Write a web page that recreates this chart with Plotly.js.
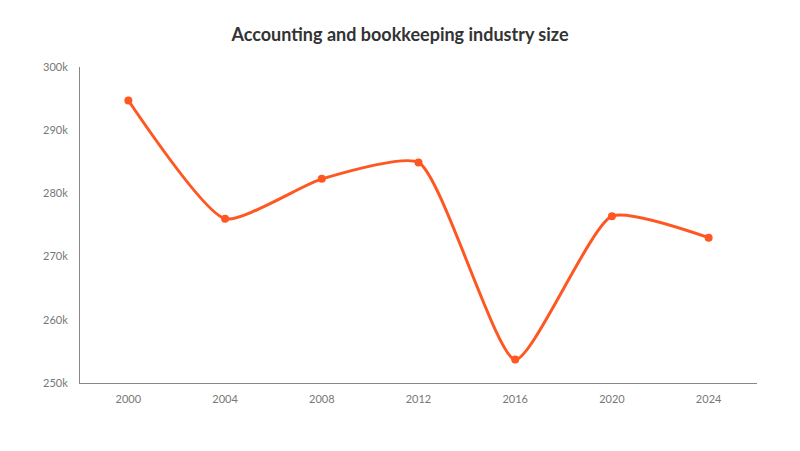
<!DOCTYPE html>
<html><head><meta charset="utf-8">
<script src="https://cdn.plot.ly/plotly-3.0.1.min.js"></script>
<style>html,body{margin:0;padding:0;background:#fff}#c{width:800px;height:451px}</style>
</head><body><div id="c"></div>
<script>
const years = ["2000","2004","2008","2012","2016","2020","2024"];
const sizes = [294700, 276000, 282300, 284900, 253700, 276400, 273000];
const tickVals = [250000, 260000, 270000, 280000, 290000, 300000];
const tickText = ["250k","260k","270k","280k","290k","300k"];

Plotly.newPlot("c", [{
  x: years, y: sizes, type: "scatter", mode: "lines+markers",
  line: {shape: "spline", smoothing: 0.55, color: "#FF5722", width: 3},
  marker: {size: 8, color: "#FF5722"},
  hoverinfo: "x+y"
}], {
  width: 800, height: 451,
  margin: {l: 80, r: 43, t: 67, b: 68},
  paper_bgcolor: "#fff", plot_bgcolor: "#fff",
  font: {family: "Lato, 'Open Sans', sans-serif", color: "#777", size: 11},
  title: {text: "<b>Accounting and bookkeeping industry size</b>", x: 0.5, y: 0.922, xanchor: "center", yanchor: "middle",
          font: {family: "Lato, sans-serif", size: 18, color: "#333"}},
  showlegend: false,
  xaxis: {type: "category", range: [-0.5, 6.5], showgrid: false, zeroline: false,
          showline: true, linecolor: "#888", linewidth: 1, ticks: "", ticklen: 0, ticklabelstandoff: 6,
          tickfont: {size: 11, color: "#777"}},
  yaxis: {range: [250000, 300000], tickvals: tickVals, ticktext: tickText, showgrid: false, zeroline: false,
          showline: true, linecolor: "#888", linewidth: 1, ticks: "", ticklen: 0, ticklabelstandoff: 9,
          tickfont: {size: 11, color: "#777"}}
}, {displayModeBar: false, staticPlot: true});
</script></body></html>
